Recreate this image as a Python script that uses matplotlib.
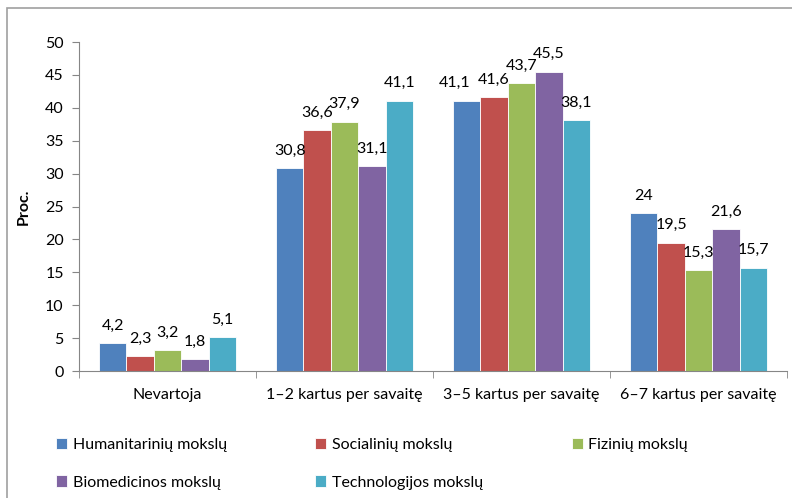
import matplotlib
matplotlib.use("Agg")
import matplotlib.pyplot as plt
import numpy as np
from matplotlib.patches import Rectangle

categories = ["Nevartoja", "1–2 kartus per savaitę", "3–5 kartus per savaitę", "6–7 kartus per savaitę"]
series_names = ["Humanitarinių mokslų", "Socialinių mokslų", "Fizinių mokslų",
                "Biomedicinos mokslų", "Technologijos mokslų"]
humanitariniu = [4.2, 30.8, 41.1, 24]
socialiniu = [2.3, 36.6, 41.6, 19.5]
fiziniu = [3.2, 37.9, 43.7, 15.3]
biomedicinos = [1.8, 31.1, 45.5, 21.6]
technologijos = [5.1, 41.1, 38.1, 15.7]
series = [humanitariniu, socialiniu, fiziniu, biomedicinos, technologijos]
colors = ["#4F81BD", "#C0504D", "#9BBB59", "#8064A2", "#4BACC6"]
yticks = [0, 5, 10, 15, 20, 25, 30, 35, 40, 45, 50]

plt.rcParams['font.family'] = ['Lato', 'DejaVu Sans']
fs = 11.5

fig = plt.figure(figsize=(7.92, 4.98), dpi=100)
ax = fig.add_axes([79/792, 1-371/498, (787-79)/792, (371-42)/498])

x = np.arange(len(categories))
bw = 0.155
handles = []
for i, (vals, c) in enumerate(zip(series, colors)):
    pos = x + (i - 2) * bw
    b = ax.bar(pos, vals, width=bw, color=c, edgecolor='white', linewidth=0.6)
    handles.append(b)
    for j, (p, v) in enumerate(zip(pos, vals)):
        lab = (f"{v:.1f}".replace('.', ',')) if v != int(v) else str(int(v))
        dx = -9 if (i == 0 and j == 2) else 0  # label nudged left as in reference
        ax.annotate(lab, (p, v), xytext=(dx, 7.5), textcoords='offset points',
                    ha='center', va='bottom', fontsize=fs, color='black')

ax.set_xlim(-0.5, 3.5)
ax.set_ylim(0, 50)
ax.set_yticks(yticks)
ax.set_yticklabels([str(t) for t in yticks], fontsize=fs)
ax.set_xticks(x)
ax.set_xticklabels(categories, fontsize=fs)
ax.set_xticks(np.arange(-0.5, 4.0, 1.0), minor=True)
ax.tick_params(axis='x', which='major', length=0, pad=12)
ax.tick_params(axis='x', which='minor', length=5, color='#868686', direction='out')
ax.tick_params(axis='y', length=5, color='#868686', direction='out', pad=6)
for s in ['top', 'right']:
    ax.spines[s].set_visible(False)
for s in ['left', 'bottom']:
    ax.spines[s].set_color('#868686')
ax.set_ylabel("Proc.", fontsize=fs, fontweight='bold', labelpad=10)

# row-major order for a 3-column legend
order = [0, 3, 1, 4, 2]
fig.legend([handles[k] for k in order], [series_names[k] for k in order],
           loc='upper left', ncol=3, mode='expand',
           bbox_to_anchor=(56/792, 1-438/498, 632/792, 0), frameon=False,
           fontsize=fs, handlelength=0.7, handleheight=0.7, handletextpad=0.35,
           labelspacing=1.45, borderaxespad=0, borderpad=0)

fig.patches.append(Rectangle((7/792, -0.02), 1.05, 1-8/498+0.02, transform=fig.transFigure,
                             fill=False, edgecolor='#A0A0A0', linewidth=1.2, zorder=-1))

fig.savefig("out.png", dpi=100)
